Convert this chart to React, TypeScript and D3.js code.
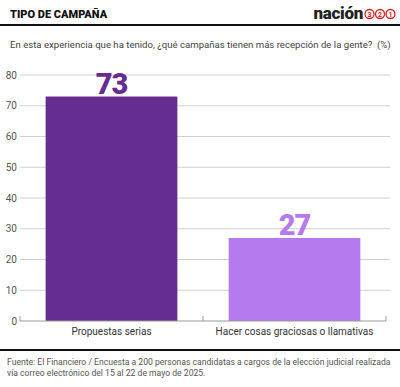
import React from 'react'
import * as d3 from 'd3'

const categories = ['Propuestas serias', 'Hacer cosas graciosas o llamativas']
const values = [73, 27]
const colors = ['#652d90', '#b57bee']
const yTicks = [0, 10, 20, 30, 40, 50, 60, 70, 80]
const logoDigits = ['3', '2', '1']

const W = 400
const H = 387

export default function App() {
  const x = d3.scaleBand().domain(categories).range([20, 386]).paddingInner(0.28).paddingOuter(0.14)
  const y = d3.scaleLinear().domain([0, 80]).range([321, 75])
  const font = 'Roboto, "Noto Sans", sans-serif'
  const edges = [0, 1, 2].map(i => 20 + i * x.step())

  return (
    <svg width={W} height={H} style={{display: 'block', position: 'absolute', left: 0, top: 0}}>
      <rect width={W} height={H} fill="#fff" />
      <text x={10} y={18} fontFamily={font} fontWeight={900} fontSize={11} fill="#111">TIPO DE CAMPAÑA</text>
      <text x={363} y={19} textAnchor="end" fontFamily={font} fontWeight={900} fontSize={17} fill="#222" letterSpacing={-0.3}>nación</text>
      {logoDigits.map((d, i) => (
        <g key={i} transform={`translate(${369.5 + i * 10.5},14)`}>
          <circle r={4.5} fill="none" stroke="#d62020" strokeWidth={1.3} />
          <text y={2.6} textAnchor="middle" fontFamily={font} fontWeight={700} fontSize={7} fill="#d62020">{d}</text>
        </g>
      ))}
      <rect x={0} y={24} width={W} height={2} fill="#111" />
      <text x={10} y={48} fontFamily={font} fontSize={9.6} fill="#444" style={{whiteSpace: 'pre'}}>
        {'En esta experiencia que ha tenido, ¿qué campañas tienen más recepción de la gente?\u00a0\u00a0(%)'}
      </text>

      {yTicks.map(t => (
        <g key={t}>
          {t > 0 && <line x1={20} x2={390} y1={y(t)} y2={y(t)} stroke="#d0d0d0" strokeWidth={1} />}
          <text x={17} y={y(t) + 3.5} textAnchor="end" fontFamily={font} fontSize={10} fill="#555">{t}</text>
        </g>
      ))}

      {categories.map((c, i) => (
        <g key={c}>
          <rect x={x(c)} y={y(values[i])} width={x.bandwidth()} height={y(0) - y(values[i])} fill={colors[i]} />
          <text x={x(c)! + x.bandwidth() / 2} y={y(values[i]) - 3} textAnchor="middle"
            fontFamily={font} fontWeight={900} fontSize={29} fill={colors[i]} letterSpacing={-1}>{values[i]}</text>
          <text x={x(c)! + x.bandwidth() / 2} y={335} textAnchor="middle" fontFamily={font} fontSize={10} fill="#333">{c}</text>
        </g>
      ))}

      <line x1={20} x2={386} y1={y(0)} y2={y(0)} stroke="#999" strokeWidth={1} />
      {edges.map((e, i) => (
        <line key={i} x1={e} x2={e} y1={y(0)} y2={y(0) - 5} stroke="#999" strokeWidth={1} />
      ))}

      <rect x={0} y={349} width={W} height={2} fill="#111" />
      <text x={7} y={365} fontFamily={font} fontSize={8.6} fill="#555">
        Fuente: El Financiero / Encuesta a 200 personas candidatas a cargos de la elección judicial realizada
      </text>
      <text x={7} y={376} fontFamily={font} fontSize={8.6} fill="#555">
        vía correo electrónico del 15 al 22 de mayo de 2025.
      </text>
    </svg>
  )
}
